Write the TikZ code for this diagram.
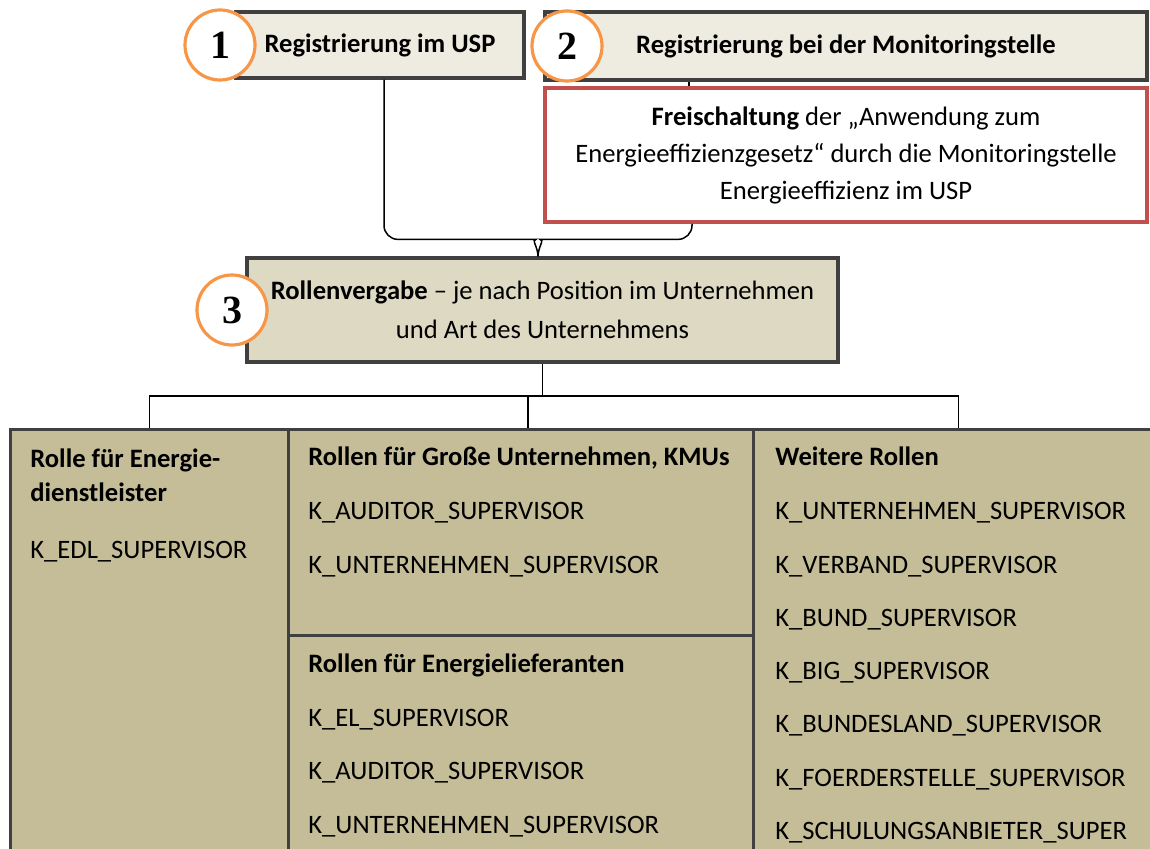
\documentclass[tikz,border=0pt]{standalone}
\usepackage{fontspec}
\setmainfont{Carlito}
\newfontfamily\numfont{Liberation Serif}
\definecolor{boxline}{HTML}{404040}
\definecolor{tanlight}{HTML}{EEECE1}
\definecolor{tanmid}{HTML}{DDD9C3}
\definecolor{tandark}{HTML}{C4BD97}
\definecolor{ringorange}{HTML}{F79646}
\definecolor{freired}{HTML}{C0504D}
\tikzset{
  stepbox/.style={draw=boxline, line width=1.6pt, inner sep=0pt, fill=tanlight,
    font=\bfseries\fontsize{13.3}{16}\selectfont},
  rolebox/.style={draw=boxline, line width=1.6pt, inner sep=0pt, fill=tandark,
    anchor=north west},
  listtext/.style={anchor=base west, inner sep=0pt,
    font=\fontsize{13.3}{16}\selectfont},
  listhead/.style={listtext, font=\bfseries\fontsize{13.3}{16}\selectfont},
  numcirc/.style={circle, draw=ringorange, line width=1.6pt, fill=white,
    minimum size=35pt, inner sep=0pt, font=\numfont\bfseries\fontsize{20}{20}\selectfont},
  conn/.style={draw=black, line width=0.75pt}
}
\begin{document}
\begin{tikzpicture}[x=0.5pt,y=-0.5pt]
  \useasboundingbox (0,0) rectangle (1150,849);
  \clip (0,0) rectangle (1150,849);
  %%% steps 1 and 2
  \node[stepbox, minimum width=144pt, minimum height=33pt] (reg1) at (380,45)
    {Registrierung im USP};
  \node[stepbox, minimum width=301pt, minimum height=34pt] (reg2) at (846,46)
    {Registrierung bei der Monitoringstelle};
  \node[stepbox, draw=freired, line width=2pt, fill=white, align=center,
    font=\fontsize{13.3}{18.5}\selectfont,
    minimum width=301pt, minimum height=67pt] (frei) at (846,155)
    {\textbf{Freischaltung} der „Anwendung zum\\
     Energieeffizienzgesetz“ durch die Monitoringstelle\\
     Energieeffizienz im USP};
  %%% step 3
  \node[stepbox, fill=tanmid, align=center, font=\fontsize{13.3}{19.5}\selectfont,
    minimum width=295.5pt, minimum height=52pt] (rolle) at (542.5,310)
    {\textbf{Rollenvergabe} -- je nach Position im Unternehmen\\
     und Art des Unternehmens};
  %%% the role boxes
  \node[rolebox, minimum width=139pt, minimum height=230pt] (edl) at (9,428) {};
  \node[rolebox, minimum width=232.5pt, minimum height=103pt] (gross) at (287,428) {};
  \node[rolebox, minimum width=232.5pt, minimum height=120pt] (lief) at (287,634) {};
  \node[rolebox, minimum width=205pt, minimum height=230pt] (weitere) at (752,428) {};
  % left box
  \node[listhead] (edl-t1) at (30,468) {Rolle für Energie-};
  \node[listhead] (edl-t2) at (30,502) {dienstleister};
  \node[listtext] (edl-1) at (30,558) {K\_EDL\_SUPERVISOR};
  % middle boxes
  \node[listhead] (gross-t) at (308,466) {Rollen für Große Unternehmen, KMUs};
  \node[listtext] (gross-1) at (308,519) {K\_AUDITOR\_SUPERVISOR};
  \node[listtext] (gross-2) at (308,573) {K\_UNTERNEHMEN\_SUPERVISOR};
  \node[listhead] (lief-t) at (308,672) {Rollen für Energielieferanten};
  \node[listtext] (lief-1) at (308,726) {K\_EL\_SUPERVISOR};
  \node[listtext] (lief-2) at (308,779) {K\_AUDITOR\_SUPERVISOR};
  \node[listtext] (lief-3) at (308,833) {K\_UNTERNEHMEN\_SUPERVISOR};
  % right box
  \node[listhead] (weitere-t) at (775,466) {Weitere Rollen};
  \node[listtext] (weitere-1) at (775,519) {K\_UNTERNEHMEN\_SUPERVISOR};
  \node[listtext] (weitere-2) at (775,573) {K\_VERBAND\_SUPERVISOR};
  \node[listtext] (weitere-3) at (775,626) {K\_BUND\_SUPERVISOR};
  \node[listtext] (weitere-4) at (775,679) {K\_BIG\_SUPERVISOR};
  \node[listtext] (weitere-5) at (775,732) {K\_BUNDESLAND\_SUPERVISOR};
  \node[listtext] (weitere-6) at (775,786) {K\_FOERDERSTELLE\_SUPERVISOR};
  \node[listtext] (weitere-7) at (775,839) {K\_SCHULUNGSANBIETER\_SUPER};
  %%% connectors
  \coordinate (r1out) at (384,0 |- reg1.south);
  \coordinate (r2out) at (689,0 |- reg2.south);
  \coordinate (frout) at (692,0 |- frei.south);
  \coordinate (tip) at (538,0 |- rolle.north);
  \draw[conn] (r2out) -- (r2out |- frei.north);
  \draw[conn, rounded corners=7pt] (r1out) |- ([xshift=-8pt,yshift=8.5pt]tip)
    to[out=0,in=90] (tip);
  \draw[conn, rounded corners=7pt] (frout) |- ([xshift=8pt,yshift=8.5pt]tip)
    to[out=180,in=90] (tip);
  \coordinate (hub) at (rolle.south |- 0,396);
  \draw[conn] (rolle.south) -- (hub);
  \draw[conn] (edl.north) |- (hub) -| (weitere.north);
  \draw[conn] (gross.north -| 528,0) -- (hub -| 528,0);
  %%% the numbers
  \node[numcirc] (n1) at (220,45) {1};
  \node[numcirc] (n2) at (567,46) {2};
  \node[numcirc] (n3) at (232,310) {3};
\end{tikzpicture}
\end{document}
